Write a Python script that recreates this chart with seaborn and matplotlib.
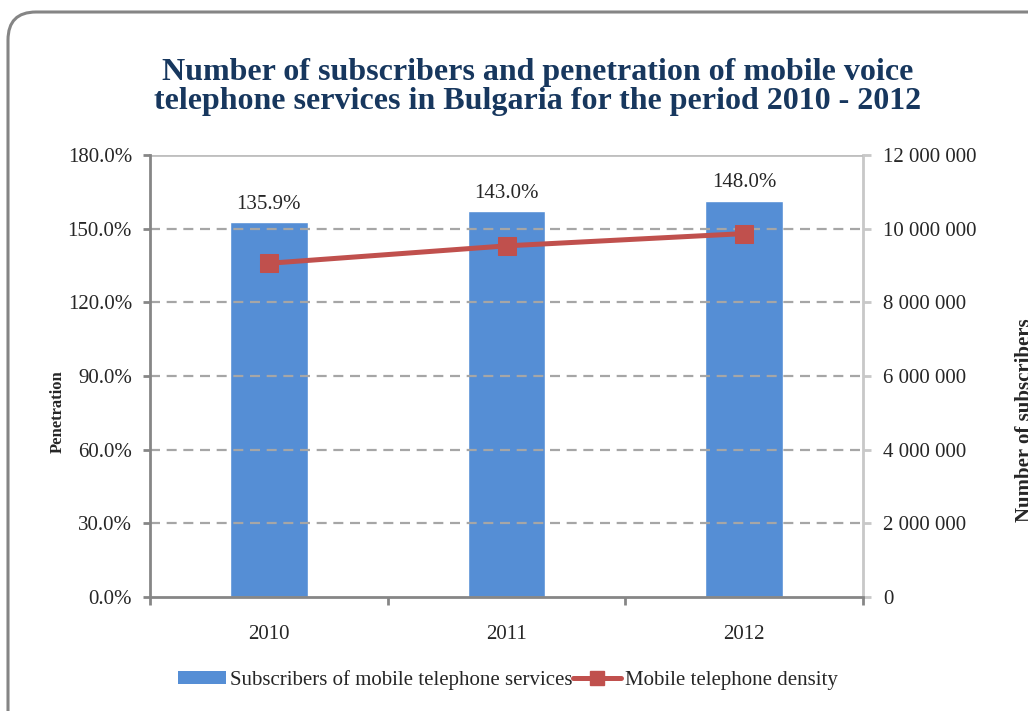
import numpy as np
import pandas as pd
import matplotlib
matplotlib.use('Agg')
import matplotlib.pyplot as plt
import seaborn as sns
from matplotlib.patches import FancyBboxPatch, Patch
from matplotlib.lines import Line2D
from matplotlib.ticker import FuncFormatter, MultipleLocator

# ── Veriler ──
yillar = ['2010', '2011', '2012']
abone_sayisi = [10170000, 10470000, 10760000]   # sağ eksen
penetrasyon = [135.9, 143.0, 148.0]              # sol eksen, %

BAR_RENK = '#558ED5'
CIZGI_RENK = '#C0504D'
BASLIK_RENK = '#17375E'

sns.set_theme(style='white')
plt.rcParams['font.family'] = ['Liberation Serif', 'DejaVu Serif']

df = pd.DataFrame({'yil': yillar, 'abone': abone_sayisi, 'pen': penetrasyon})

fig = plt.figure(figsize=(10.28, 7.11), dpi=100)

# yuvarlatılmış çerçeve
cerceve = FancyBboxPatch((8, -30), 1060, 729, boxstyle='round,pad=0,rounding_size=28',
                         transform=None, facecolor='none', edgecolor='#858585', linewidth=2.2)
fig.patches.append(cerceve)

ax = fig.add_axes([150 / 1028, 1 - 597 / 711, 713 / 1028, 442 / 711])
ax2 = ax.twinx()

# çubuklar sağ eksende
sns.barplot(data=df, x='yil', y='abone', ax=ax2, color=BAR_RENK, width=0.327,
            saturation=1, order=yillar)
ax2.set_ylim(0, 12000000)
ax2.yaxis.set_major_locator(MultipleLocator(2000000))
ax2.yaxis.set_major_formatter(FuncFormatter(lambda v, p: f'{int(v):,}'.replace(',', ' ')))
ax2.set_ylabel('')
ax2.set_xlabel('')

# çizgi sol eksende, üstte
ax.set_zorder(ax2.get_zorder() + 1)
ax.patch.set_visible(False)
sns.lineplot(data=df, x='yil', y='pen', ax=ax, color=CIZGI_RENK, linewidth=3.6,
             marker='s', markersize=13, markeredgecolor=CIZGI_RENK, sort=False)
ax.set_ylim(0, 180)
ax.set_xlim(-0.5, 2.5)
ax.yaxis.set_major_locator(MultipleLocator(30))
ax.yaxis.set_major_formatter(FuncFormatter(lambda v, p: f'{v:.1f}%'))
ax.set_xlabel('')
ax.set_ylabel('Penetration', fontsize=12, fontweight='bold')
ax.yaxis.set_label_coords(-0.118, 0.42)

# ızgara
for v in range(30, 180, 30):
    ax.axhline(v, color='#A6A6A6', linewidth=1.6, linestyle=(0, (4.5, 3)), zorder=0.5)
ax.axhline(180, color='#BFBFBF', linewidth=2.0, zorder=0.5)

# kenarlar
for s in ['top']:
    ax.spines[s].set_visible(False)
    ax2.spines[s].set_visible(False)
ax.spines['left'].set_color('#868686')
ax.spines['left'].set_linewidth(2)
ax.spines['bottom'].set_color('#868686')
ax.spines['bottom'].set_linewidth(2)
ax.spines['right'].set_visible(False)
ax2.spines['left'].set_visible(False)
ax2.spines['bottom'].set_visible(False)
ax2.spines['right'].set_color('#C8C8C8')
ax2.spines['right'].set_linewidth(2)

ax.tick_params(axis='y', which='major', left=True, length=5, width=2, color='#868686',
               labelsize=15, pad=8)
ax2.tick_params(axis='y', which='major', right=True, length=6, width=2, color='#C8C8C8',
                labelsize=15, pad=8.5)
ax.set_xticks([0, 1, 2])
ax.set_xticklabels(yillar)
ax.set_xticks([-0.5, 0.5, 1.5, 2.5], minor=True)
ax.tick_params(axis='x', which='major', length=0, labelsize=15, pad=20)
ax.tick_params(axis='x', which='minor', bottom=True, length=6, width=2, color='#868686')
ax2.tick_params(axis='x', which='both', bottom=False, labelbottom=False)

# değer etiketleri çubuk üstünde
for i, (a, p) in enumerate(zip(abone_sayisi, penetrasyon)):
    ax2.annotate(f'{p:.1f}%', (i, a), xytext=(0, 6), textcoords='offset points',
                 ha='center', va='bottom', fontsize=15)

fig.text(538 / 1028, 1 - 87 / 711,
         'Number of subscribers and penetration of mobile voice\n'
         'telephone services in Bulgaria for the period 2010 - 2012',
         ha='center', va='center', fontsize=23, fontweight='bold', color=BASLIK_RENK,
         linespacing=1.0)

fig.text(1015 / 1028, 1 - 420 / 711, 'Number of subscribers', rotation=90,
         ha='left', va='center', fontsize=15, fontweight='bold')

# lejant
tutamaclar = [Patch(facecolor=BAR_RENK, edgecolor='none'),
              Line2D([0], [0], color=CIZGI_RENK, linewidth=3.6, marker='s', markersize=10)]
fig.legend(tutamaclar, ['Subscribers of mobile telephone services', 'Mobile telephone density'],
           loc='center', bbox_to_anchor=(508 / 1028, 1 - 680 / 711), ncol=2, frameon=False,
           fontsize=15, handlelength=2.3, handletextpad=0.2, columnspacing=0.0,
           handleheight=0.55)

fig.savefig('out.png', dpi=100)
